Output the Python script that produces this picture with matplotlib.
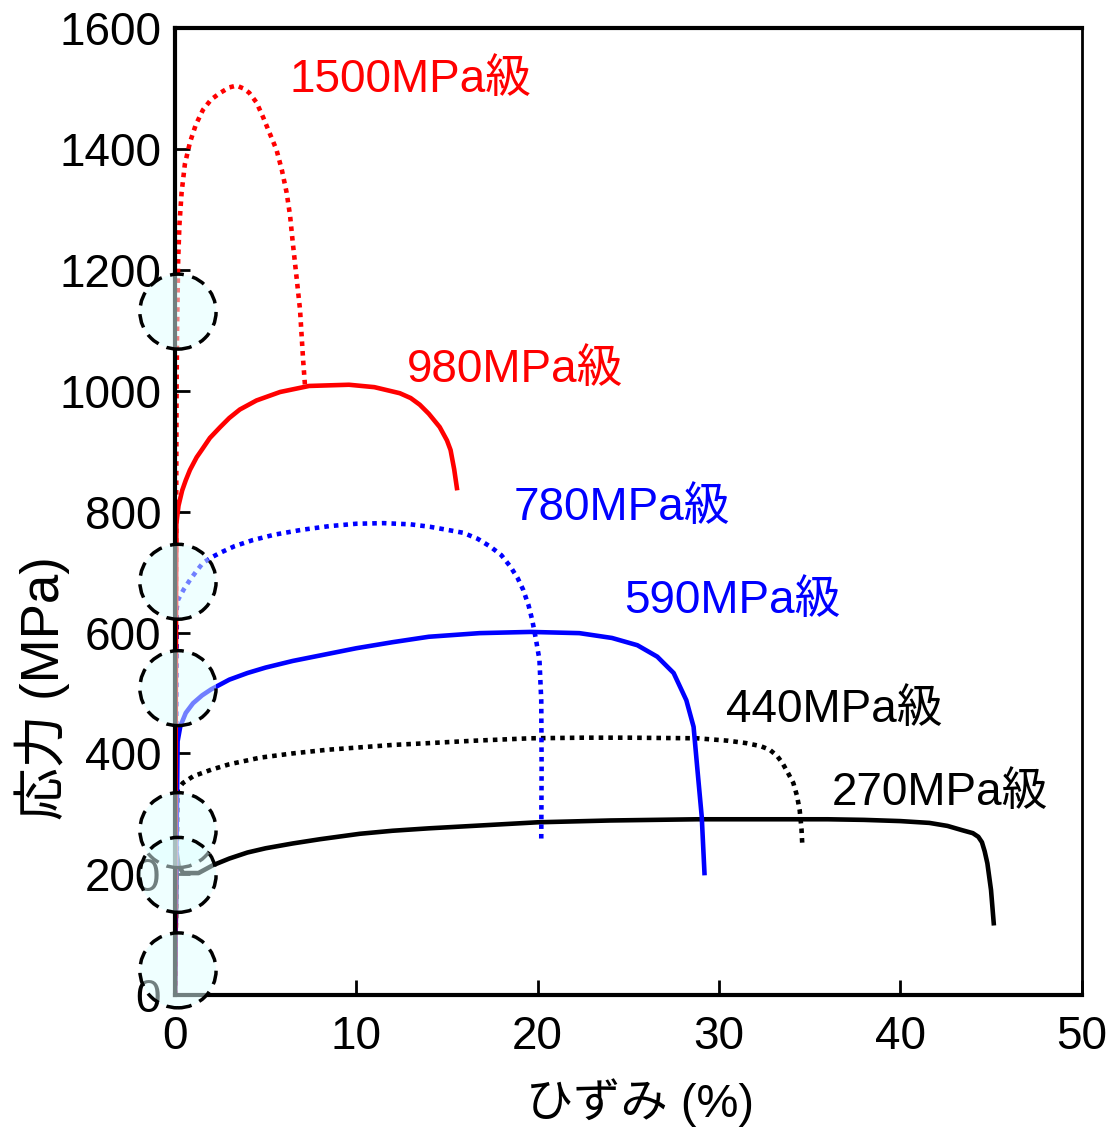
import numpy as np
import matplotlib as mpl
mpl.use('Agg')
import matplotlib.pyplot as plt
from matplotlib.patches import Ellipse

#----------------------------------
#Datos (ひずみ %, 応力 MPa)
x270 = [0, 0.1, 0.2, 0.45, 1.3, 2.1, 3, 4, 5, 6.5, 8, 10.2, 12, 14, 17, 20, 24, 28.8,
        32, 36, 38, 40, 41.6, 42.6, 43.4, 44.0, 44.3, 44.5, 44.65, 44.8, 45.0, 45.15]
y270 = [0, 235, 215, 202, 202, 215, 226, 236, 243, 251, 258, 267, 272, 276, 281, 286, 289, 291,
        291, 291, 290, 288, 285, 280, 273, 268, 262, 253, 238, 218, 174, 119]

x440 = [0, 0.15, 0.44, 1, 2, 3, 4.7, 6.5, 8.4, 10.2, 12, 14, 16.5, 19.6, 22.5, 25, 28.8,
        30.5, 31.5, 32.3, 32.8, 33.2, 33.5, 33.8, 34.1, 34.3, 34.45, 34.55, 34.6]
y440 = [0, 340, 351, 362, 373, 382, 393, 400, 406, 410, 414, 417, 421, 425, 426, 426, 425,
        421, 417, 412, 406, 396, 384, 368, 351, 330, 306, 275, 245]

x590 = [0, 0.15, 0.3, 0.6, 1, 1.5, 2, 3, 4, 5, 6.5, 8, 10, 12, 14, 16.8, 19.6, 22.3,
        24.1, 25.5, 26.6, 27.5, 28.2, 28.6, 28.8, 29.05, 29.2]
y590 = [0, 420, 445, 467, 483, 496, 506, 522, 533, 542, 553, 562, 574, 584, 593, 599, 601, 599,
        591, 579, 560, 533, 488, 444, 377, 295, 202]

x780 = [0, 0.1, 0.17, 0.5, 0.83, 1.2, 1.54, 2, 2.5, 3.3, 4.3, 5.5, 7, 8.5, 10, 11.5, 13,
        14.06, 15, 15.9, 16.7, 17.4, 18, 18.5, 18.9, 19.2, 19.5, 19.7, 19.9, 20.1, 20.2, 20.22, 20.2]
y780 = [0, 640, 654, 672, 687, 702, 715, 724, 732, 743, 753, 762, 770, 776, 780, 781, 779,
        775, 770, 765, 755, 742, 728, 709, 690, 671, 645, 621, 590, 555, 488, 377, 253]

x980 = [0, 0.08, 0.2, 0.4, 0.6, 0.83, 1.2, 1.5, 1.93, 2.5, 3, 3.58, 4.5, 5.8, 7.4, 9.6,
        11, 12.4, 13, 13.5, 14, 14.6, 15, 15.2, 15.4, 15.55]
y980 = [0, 780, 810, 835, 852, 869, 890, 903, 922, 940, 955, 969, 984, 998, 1008, 1010,
        1006, 996, 988, 977, 962, 940, 918, 902, 870, 839]

x1500 = [0, 0.09, 0.12, 0.18, 0.25, 0.37, 0.55, 0.83, 1.15, 1.55, 2, 2.5, 3, 3.4, 3.8, 4.1,
         4.5, 4.86, 5.2, 5.6, 5.9, 6.16, 6.35, 6.5, 6.7, 6.9, 7.07, 7.17]
y1500 = [0, 997, 1100, 1217, 1275, 1328, 1375, 1411, 1440, 1465, 1482, 1493, 1502, 1505, 1500, 1493,
         1477, 1453, 1428, 1399, 1365, 1328, 1290, 1245, 1190, 1134, 1051, 1010]

#Etiquetas de cada curva
etiquetas = ['1500MPa級', '980MPa級', '780MPa級', '590MPa級', '440MPa級', '270MPa級']
etiq_x = [6.3, 12.8, 18.7, 24.8, 30.4, 36.2]
etiq_y = [1515, 1035, 806, 652, 472, 334]
etiq_col = ['red', 'red', 'blue', 'blue', 'black', 'black']

#Circulos marcados
circ_y = [1131, 684, 508, 273, 199, 41]

xticks = [0, 10, 20, 30, 40, 50]
yticks = [0, 200, 400, 600, 800, 1000, 1200, 1400, 1600]
#--------------------------------
plt.rcParams['font.family'] = ['Liberation Sans', 'Noto Sans CJK JP']

fig = plt.figure(figsize=[11.14, 11.27], dpi=100)
ax = fig.add_axes((0.157, 0.117, 0.971 - 0.157, 0.975 - 0.117))

lw = 3.3
punto = (0, (1., 1.1))
kw = dict(linewidth=lw, solid_joinstyle='round', dash_joinstyle='round')
ax.plot(x270, y270, '-', color='black', **kw)
ax.plot(x440, y440, color='black', linestyle=punto, **kw)
ax.plot(x590, y590, '-', color='blue', **kw)
ax.plot(x780, y780, color='blue', linestyle=punto, **kw)
ax.plot(x980, y980, '-', color='red', **kw)
ax.plot(x1500, y1500, color='red', linestyle=punto, **kw)

for i in range(len(etiquetas)):
    ax.text(etiq_x[i], etiq_y[i], etiquetas[i], color=etiq_col[i], fontsize=33,
            ha='left', va='center')

ax.set_xlim(0, 50)
ax.set_ylim(0, 1600)
ax.set_xticks(xticks)
ax.set_yticks(yticks)
ax.tick_params(direction='in', length=11, width=2, labelsize=33)
ax.tick_params(axis='x', pad=14)
ax.tick_params(axis='y', pad=10)
for s in ['left', 'top', 'bottom']:
    ax.spines[s].set_linewidth(3)
ax.spines['right'].set_linewidth(2)

ax.set_xlabel('ひずみ (%)', fontsize=34)
ax.xaxis.set_label_coords(0.513, -0.086)
ax.set_ylabel('応力 (MPa)', fontsize=38)
ax.yaxis.set_label_coords(-0.116, 0.317)

#Circulos por encima de todo (incluso etiquetas)
for cy in circ_y:
    fig.add_artist(Ellipse((0.17, cy), 4.2, 124, transform=ax.transData,
                           facecolor=(0.878, 1., 1., 0.5), edgecolor='none', clip_on=False))
    fig.add_artist(Ellipse((0.17, cy), 4.2, 124, transform=ax.transData,
                           facecolor='none', edgecolor='black', linewidth=2.5,
                           linestyle=(0, (4, 2.5)), clip_on=False))

fig.savefig('out.png', dpi=100)
